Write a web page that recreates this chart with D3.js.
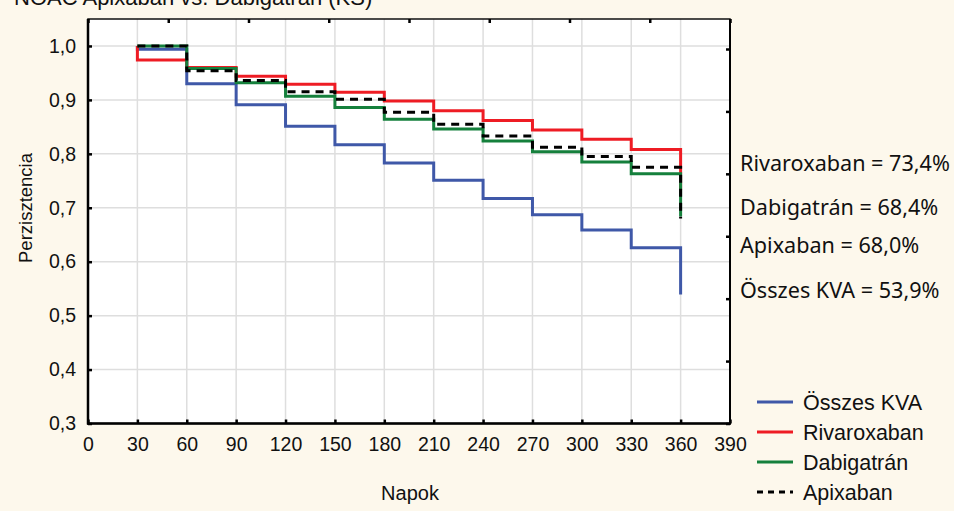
<!DOCTYPE html>
<html>
<head>
<meta charset="utf-8">
<script src="https://cdn.jsdelivr.net/npm/d3@7"></script>
<style>
    body { margin: 0; background: #fdf8ec; }
    svg { display: block; }
</style>
</head>
<body>
<svg id="chart" width="954" height="511"></svg>
<script>
// napok (step points) and persistence values per group
const days = [30, 60, 90, 120, 150, 180, 210, 240, 270, 300, 330, 360];
const osszesKVA = [0.994, 0.930, 0.891, 0.851, 0.817, 0.783, 0.751, 0.717, 0.687, 0.659, 0.626, 0.539];
const rivaroxaban = [0.974, 0.960, 0.944, 0.929, 0.914, 0.898, 0.880, 0.862, 0.844, 0.827, 0.808, 0.734];
const dabigatran = [1.000, 0.958, 0.932, 0.907, 0.886, 0.864, 0.846, 0.824, 0.804, 0.785, 0.763, 0.684];
const apixaban = [1.000, 0.954, 0.936, 0.915, 0.901, 0.877, 0.855, 0.833, 0.812, 0.795, 0.775, 0.680];

const xTicks = [0, 30, 60, 90, 120, 150, 180, 210, 240, 270, 300, 330, 360, 390];
const yTicks = [0.3, 0.4, 0.5, 0.6, 0.7, 0.8, 0.9, 1.0];

const seriesNames = ['Összes KVA', 'Rivaroxaban', 'Dabigatrán', 'Apixaban'];
const annotations = ['Rivaroxaban = 73,4%', 'Dabigatrán = 68,4%', 'Apixaban = 68,0%', 'Összes KVA = 53,9%'];

const series = [
    {name: seriesNames[0], values: osszesKVA, color: '#3f58a8', dash: null},
    {name: seriesNames[1], values: rivaroxaban, color: '#ee1c24', dash: null},
    {name: seriesNames[2], values: dabigatran, color: '#15803c', dash: null},
    {name: seriesNames[3], values: apixaban, color: '#000000', dash: '8,6'}
];

const svg = d3.select('#chart');
const font = 'Liberation Sans, Arial, sans-serif';

const plot = {left: 88, right: 730, top: 19, bottom: 423.5};

const x = d3.scaleLinear().domain([0, 390]).range([plot.left, plot.right]);
const y = d3.scaleLinear().domain([0.3, 1.05]).range([plot.bottom, plot.top]);

svg.append('rect')
    .attr('width', 954).attr('height', 511)
    .attr('fill', '#fdf8ec');

// title, cut by the top edge like the source
svg.append('text')
    .attr('x', 14).attr('y', 5)
    .style('font-family', font)
    .style('font-size', '22px')
    .attr('fill', '#111')
    .text('NOAC Apixaban vs. Dabigatrán (KS)');

svg.append('rect')
    .attr('x', plot.left).attr('y', plot.top)
    .attr('width', plot.right - plot.left)
    .attr('height', plot.bottom - plot.top)
    .attr('fill', '#fff');

// grid
const grid = svg.append('g')
    .attr('stroke', '#dedede')
    .attr('stroke-width', 1.5);

grid.selectAll('line.v')
    .data(xTicks.slice(1, -1))
    .enter().append('line')
    .attr('x1', d => x(d)).attr('x2', d => x(d))
    .attr('y1', plot.top).attr('y2', plot.bottom);

grid.selectAll('line.h')
    .data(yTicks.slice(1))
    .enter().append('line')
    .attr('x1', plot.left).attr('x2', plot.right)
    .attr('y1', d => y(d)).attr('y2', d => y(d));

// curves
const line = d3.line()
    .x(d => x(d[0]))
    .y(d => y(d[1]))
    .curve(d3.curveStepAfter);

svg.append('g')
    .selectAll('path')
    .data(series)
    .enter().append('path')
    .attr('d', s => line([[days[0], 1.0]].concat(days.map((d, i) => [d, s.values[i]]))))
    .attr('fill', 'none')
    .attr('stroke', s => s.color)
    .attr('stroke-width', 3)
    .attr('stroke-dasharray', s => s.dash);

// frame
svg.append('rect')
    .attr('x', plot.left).attr('y', plot.top)
    .attr('width', plot.right - plot.left)
    .attr('height', plot.bottom - plot.top)
    .attr('fill', 'none')
    .attr('stroke', '#111')
    .attr('stroke-width', 1.5);

svg.append('line')
    .attr('x1', plot.left).attr('x2', plot.left)
    .attr('y1', plot.top).attr('y2', plot.bottom + 1)
    .attr('stroke', '#000').attr('stroke-width', 2.5);
svg.append('line')
    .attr('x1', plot.left - 1).attr('x2', plot.right + 1)
    .attr('y1', plot.bottom).attr('y2', plot.bottom)
    .attr('stroke', '#000').attr('stroke-width', 2.5);
svg.append('line')
    .attr('x1', plot.right).attr('x2', plot.right)
    .attr('y1', plot.top).attr('y2', plot.bottom)
    .attr('stroke', '#000').attr('stroke-width', 2);

// axes, ticks point inward
const xAxis = svg.append('g')
    .attr('transform', `translate(0,${plot.bottom})`)
    .call(d3.axisBottom(x).tickValues(xTicks).tickSize(-4).tickPadding(14));

const yAxis = svg.append('g')
    .attr('transform', `translate(${plot.left},0)`)
    .call(d3.axisLeft(y).tickValues(yTicks).tickSize(-4).tickPadding(12)
        .tickFormat(d => d3.format('.1f')(d).replace('.', ',')));

[xAxis, yAxis].forEach(function (g) {
    g.select('.domain').remove();
    g.selectAll('.tick line').attr('stroke', '#000').attr('stroke-width', 2.5);
    g.selectAll('.tick text')
        .style('font-family', font)
        .style('font-size', '19.5px')
        .attr('fill', '#111');
});

// secondary ticks on the top and right frame
const topScale = d3.scaleLinear().domain([0, 8]).range([plot.left, plot.right]);
const rightScale = d3.scaleLinear().domain([0, 6]).range([plot.bottom, 49]);

svg.append('g')
    .attr('transform', `translate(0,${plot.top})`)
    .call(d3.axisTop(topScale).ticks(8).tickSize(-4).tickFormat(''))
    .call(g => g.select('.domain').remove())
    .selectAll('.tick line').attr('stroke', '#000').attr('stroke-width', 2.5);

svg.append('g')
    .attr('transform', `translate(${plot.right},0)`)
    .call(d3.axisRight(rightScale).ticks(6).tickSize(-4).tickFormat(''))
    .call(g => g.select('.domain').remove())
    .selectAll('.tick line').attr('stroke', '#000').attr('stroke-width', 2.5);

// axis titles
svg.append('text')
    .attr('x', (plot.left + plot.right) / 2 + 1).attr('y', 500)
    .attr('text-anchor', 'middle')
    .style('font-family', font)
    .style('font-size', '20px')
    .attr('fill', '#111')
    .text('Napok');

svg.append('text')
    .attr('transform', 'translate(32,208) rotate(-90)')
    .attr('text-anchor', 'middle')
    .style('font-family', font)
    .style('font-size', '18.5px')
    .attr('fill', '#111')
    .text('Perzisztencia');

// final persistence annotations
const annY = [170.5, 215, 252.5, 297.5];
svg.append('g')
    .selectAll('text')
    .data(annotations)
    .enter().append('text')
    .attr('x', 740)
    .attr('y', (d, i) => annY[i])
    .style('font-family', 'Noto Sans, Open Sans, sans-serif')
    .style('font-size', '21.6px')
    .attr('fill', '#111')
    .text(d => d);

// legend
const legend = svg.append('g')
    .selectAll('g')
    .data(series)
    .enter().append('g')
    .attr('transform', (d, i) => `translate(757,${402 + i * 30})`);

legend.append('line')
    .attr('x1', 0).attr('x2', 36)
    .attr('stroke', d => d.color)
    .attr('stroke-width', 3)
    .attr('stroke-dasharray', d => d.dash ? '6,5' : null);

legend.append('text')
    .attr('x', 46).attr('dy', '0.36em')
    .style('font-family', font)
    .style('font-size', '21.5px')
    .attr('fill', '#111')
    .text(d => d.name);
</script>
</body>
</html>
